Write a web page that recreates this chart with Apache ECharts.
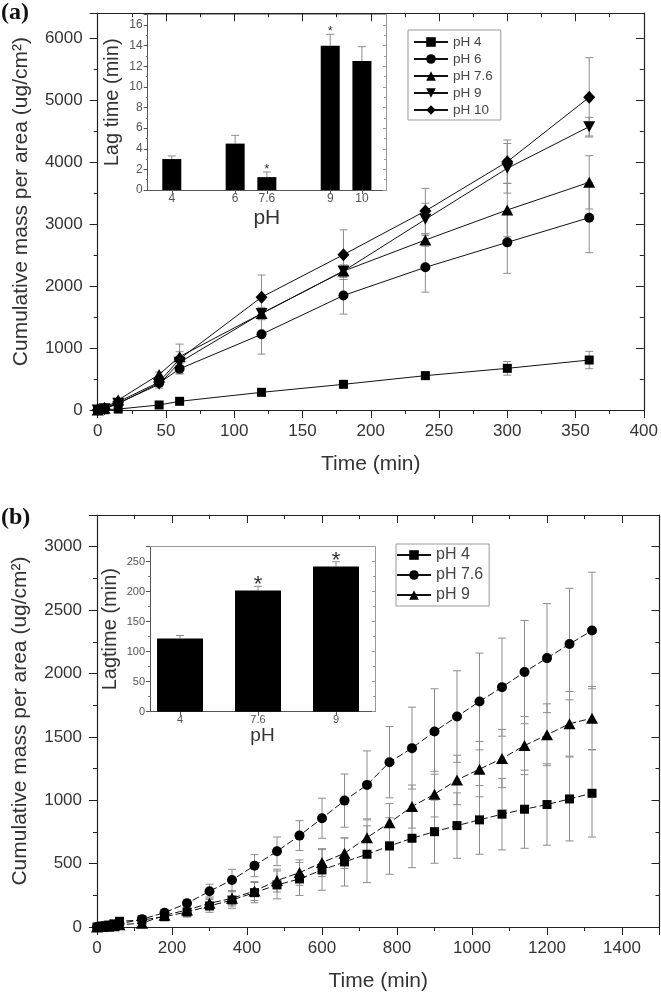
<!DOCTYPE html>
<html>
<head>
<meta charset="utf-8">
<script src="https://cdn.jsdelivr.net/npm/echarts@6/dist/echarts.min.js"></script>
<style>
html,body{margin:0;padding:0;background:#fff;}
#chart{width:661px;height:994px;}
</style>
</head>
<body>
<div id="chart"></div>
<script>
// ---------- Panel (a) data ----------
const timesA = [0, 5, 15, 45, 60, 120, 180, 240, 300, 360];
const namesA = ['pH 4', 'pH 6', 'pH 7.6', 'pH 9', 'pH 10'];
const pH4A   = [0, 5, 15, 81, 140, 285, 414, 554, 672, 806];
const pH6A   = [0, 20, 100, 435, 664, 1221, 1847, 2301, 2704, 3102];
const pH76A  = [0, 30, 160, 573, 860, 1556, 2240, 2742, 3226, 3672];
const pH9A   = [0, 20, 110, 414, 769, 1556, 2240, 3075, 3898, 4570];
const pH10A  = [0, 25, 130, 451, 823, 1820, 2505, 3210, 4005, 5043];
const pH4AErr  = [0, 0, 5, 15, 20, 30, 40, 60, 110, 140];
const pH6AErr  = [0, 0, 10, 50, 80, 320, 300, 400, 500, 565];
const pH76AErr = [0, 0, 20, 40, 80, 80, 60, 100, 430, 430];
const pH9AErr  = [0, 0, 15, 60, 80, 100, 100, 260, 400, 150];
const pH10AErr = [0, 0, 15, 60, 240, 357, 400, 365, 350, 640];

// inset (a): lag time
const lagCatsA = ['4', '6', '7.6', '9', '10'];
const lagPosA  = [0, 2, 3, 5, 6];
const lagValsA = [3.0, 4.5, 1.25, 14.0, 12.5];
const lagErrA  = [0.3, 0.8, 0.5, 1.1, 1.4];
const lagSigA  = [false, false, true, true, false];

// ---------- Panel (b) data ----------
const timesB = [0, 15, 30, 45, 60, 120, 180, 240, 300, 360, 420, 480, 540, 600, 660, 720, 780, 840, 900, 960, 1020, 1080, 1140, 1200, 1260, 1320];
const namesB = ['pH 4', 'pH 7.6', 'pH 9'];
const pH4B  = [0, 8, 15, 25, 45, 55, 81, 118, 166, 213, 271, 332, 379, 450, 513, 574, 639, 700, 752, 800, 845, 890, 929, 966, 1010, 1055];
const pH76B = [0, 5, 10, 15, 25, 61, 113, 187, 282, 371, 484, 597, 721, 858, 997, 1121, 1300, 1411, 1542, 1660, 1779, 1892, 2011, 2121, 2232, 2339];
const pH9B  = [0, 3, 6, 10, 18, 30, 92, 134, 187, 226, 284, 366, 429, 508, 582, 705, 823, 950, 1048, 1160, 1245, 1329, 1431, 1516, 1603, 1647];
const pH4BErr  = [0, 0, 0, 0, 10, 15, 30, 40, 50, 65, 80, 110, 130, 160, 190, 224, 223, 232, 249, 258, 271, 282, 308, 321, 331, 345];
const pH76BErr = [0, 0, 0, 0, 10, 30, 27, 30, 55, 84, 87, 113, 118, 158, 210, 268, 281, 323, 337, 361, 382, 387, 407, 430, 440, 460];
const pH9BErr  = [0, 0, 0, 0, 10, 20, 30, 40, 50, 60, 75, 90, 100, 110, 120, 140, 150, 170, 180, 195, 218, 230, 229, 244, 255, 250];

// inset (b): lag time
const lagCatsB = ['4', '7.6', '9'];
const lagPosB  = [0, 1, 2];
const lagValsB = [122, 202, 242];
const lagErrB  = [5, 7, 8];
const lagSigB  = [false, true, true];

// ---------- helpers ----------
const FONT = "'Liberation Sans', Arial, sans-serif";
const AX = '#222';
const TXT = '#333';
const ERR = '#8c8c8c';

function pairs(xs, ys) { return xs.map((x, i) => [x, ys[i]]); }
function triples(xs, ys, es) { return xs.map((x, i) => [x, ys[i], es[i]]); }
const plain = v => String(v);

function errRender(capW, upperOnly) {
  return function (params, api) {
    const x = api.value(0), y = api.value(1), e = api.value(2);
    if (!e) return null;
    const pT = api.coord([x, y + e]);
    const pB = upperOnly ? api.coord([x, y]) : api.coord([x, y - e]);
    const st = { stroke: ERR, lineWidth: 1 };
    const ch = [
      { type: 'line', shape: { x1: pT[0], y1: pT[1], x2: pB[0], y2: pB[1] }, style: st },
      { type: 'line', shape: { x1: pT[0] - capW, y1: pT[1], x2: pT[0] + capW, y2: pT[1] }, style: st }
    ];
    if (!upperOnly) ch.push({ type: 'line', shape: { x1: pB[0] - capW, y1: pB[1], x2: pB[0] + capW, y2: pB[1] }, style: st });
    return { type: 'group', children: ch };
  };
}
function starRender(fontSize, gap) {
  return function (params, api) {
    const x = api.value(0), y = api.value(1), e = api.value(2), s = api.value(3);
    if (!s) return null;
    const p = api.coord([x, y + e]);
    return { type: 'text', style: { text: '*', x: p[0], y: p[1] - gap, align: 'center', verticalAlign: 'bottom', font: fontSize + 'px ' + FONT, fill: '#333' } };
  };
}

function mainX(grid, min, max, interval, name, gap, showMax) {
  return [{
    type: 'value', gridIndex: grid, min, max, interval, position: 'bottom',
    name, nameLocation: 'middle', nameGap: gap,
    nameTextStyle: { fontSize: 21, color: TXT, fontFamily: FONT },
    axisLine: { show: true, onZero: false, lineStyle: { color: AX, width: 1.2 } },
    axisTick: { show: true, inside: false, length: 8, lineStyle: { color: AX } },
    minorTick: { show: true, splitNumber: 2, length: 4, lineStyle: { color: AX } },
    axisLabel: { fontSize: 17, color: TXT, fontFamily: FONT, margin: 13, showMaxLabel: showMax, formatter: plain },
    splitLine: { show: false }, minorSplitLine: { show: false }
  }, {
    type: 'value', gridIndex: grid, min, max, interval, position: 'top',
    axisLine: { show: true, onZero: false, lineStyle: { color: AX, width: 1.2 } },
    axisTick: { show: true, inside: true, length: 8, lineStyle: { color: AX } },
    minorTick: { show: true, splitNumber: 2, length: 4, lineStyle: { color: AX } },
    axisLabel: { show: false }, splitLine: { show: false }
  }];
}
function mainY(grid, min, max, interval, name, gap, pad) {
  return [{
    type: 'value', gridIndex: grid, min, max, interval, position: 'left',
    name, nameLocation: 'middle', nameGap: gap,
    nameTextStyle: { fontSize: 21, color: TXT, fontFamily: FONT, padding: pad },
    axisLine: { show: true, onZero: false, lineStyle: { color: AX, width: 1.2 } },
    axisTick: { show: true, inside: false, length: 8, lineStyle: { color: AX } },
    minorTick: { show: true, splitNumber: 2, length: 4, lineStyle: { color: AX } },
    axisLabel: { fontSize: 17, color: TXT, fontFamily: FONT, margin: 15, showMaxLabel: false, formatter: plain },
    splitLine: { show: false }, minorSplitLine: { show: false }
  }, {
    type: 'value', gridIndex: grid, min, max, interval, position: 'right',
    axisLine: { show: true, onZero: false, lineStyle: { color: AX, width: 1.2 } },
    axisTick: { show: true, inside: true, length: 8, lineStyle: { color: AX } },
    minorTick: { show: true, splitNumber: 2, length: 4, lineStyle: { color: AX } },
    axisLabel: { show: false }, splitLine: { show: false }
  }];
}
function insetX(grid, min, max, pos, cats, nameSize, gap, labSize) {
  return [{
    type: 'value', gridIndex: grid, min, max, position: 'bottom',
    name: 'pH', nameLocation: 'middle', nameGap: gap,
    nameTextStyle: { fontSize: nameSize, color: TXT, fontFamily: FONT },
    axisLine: { show: true, onZero: false, lineStyle: { color: '#555', width: 1 } },
    axisTick: { show: true, inside: false, length: 4, customValues: pos, lineStyle: { color: '#555' } },
    axisLabel: { customValues: pos, fontSize: labSize, color: '#555', fontFamily: FONT, margin: 3,
      formatter: v => cats[pos.indexOf(v)] },
    splitLine: { show: false }
  }, {
    type: 'value', gridIndex: grid, min, max, position: 'top',
    axisLine: { show: true, onZero: false, lineStyle: { color: '#999', width: 1 } },
    axisTick: { show: false }, axisLabel: { show: false }, splitLine: { show: false }
  }];
}
function insetY(grid, min, max, interval, name, labSize, gap) {
  return [{
    type: 'value', gridIndex: grid, min, max, interval, position: 'left',
    name, nameLocation: 'middle', nameGap: gap,
    nameTextStyle: { fontSize: 20, color: TXT, fontFamily: FONT },
    axisLine: { show: true, onZero: false, lineStyle: { color: '#555', width: 1 } },
    axisTick: { show: true, inside: false, length: 4, lineStyle: { color: '#555' } },
    minorTick: { show: true, splitNumber: 2, length: 2, lineStyle: { color: '#777' } },
    axisLabel: { fontSize: labSize, color: '#555', fontFamily: FONT, margin: 5, showMaxLabel: false, formatter: plain },
    splitLine: { show: false }, minorSplitLine: { show: false }
  }, {
    type: 'value', gridIndex: grid, min, max, interval, position: 'right',
    axisLine: { show: true, onZero: false, lineStyle: { color: '#999', width: 1 } },
    axisTick: { show: true, inside: true, length: 3, lineStyle: { color: '#999' } },
    minorTick: { show: true, splitNumber: 2, length: 2, lineStyle: { color: '#999' } },
    axisLabel: { show: false }, splitLine: { show: false }
  }];
}

const symA = [
  { symbol: 'rect', symbolSize: 9 },
  { symbol: 'circle', symbolSize: 10 },
  { symbol: 'triangle', symbolSize: [12, 11] },
  { symbol: 'path://M0,0 L2,0 L1,1.732 Z', symbolSize: [12, 11] },
  { symbol: 'diamond', symbolSize: [12, 13] }
];
const valsA = [pH4A, pH6A, pH76A, pH9A, pH10A];
const errsA = [pH4AErr, pH6AErr, pH76AErr, pH9AErr, pH10AErr];
const symB = [
  { symbol: 'rect', symbolSize: 9 },
  { symbol: 'circle', symbolSize: 10 },
  { symbol: 'triangle', symbolSize: [12, 11] }
];
const valsB = [pH4B, pH76B, pH9B];
const errsB = [pH4BErr, pH76BErr, pH9BErr];

const series = [];
// panel (a)
valsA.forEach((v, i) => {
  series.push({ type: 'custom', xAxisIndex: 0, yAxisIndex: 0, z: 1, renderItem: errRender(4, false),
    encode: { x: 0, y: 1 }, data: triples(timesA, v, errsA[i]), silent: true });
});
valsA.forEach((v, i) => {
  series.push({ type: 'line', name: namesA[i], xAxisIndex: 0, yAxisIndex: 0, z: 3,
    data: pairs(timesA, v), symbol: symA[i].symbol, symbolSize: symA[i].symbolSize, showAllSymbol: true,
    color: '#000', itemStyle: { color: '#000' }, lineStyle: { color: '#111', width: 1 }, animation: false });
});
// inset (a)
series.push({ type: 'bar', xAxisIndex: 2, yAxisIndex: 2, data: pairs(lagPosA, lagValsA), barWidth: 19,
  itemStyle: { color: '#000' }, z: 4, animation: false });
series.push({ type: 'custom', xAxisIndex: 2, yAxisIndex: 2, z: 3, renderItem: errRender(4, true),
  encode: { x: 0, y: 1 }, data: triples(lagPosA, lagValsA, lagErrA) });
series.push({ type: 'custom', xAxisIndex: 2, yAxisIndex: 2, z: 5, renderItem: starRender(13, -4),
  encode: { x: 0, y: 1 }, data: lagPosA.map((p, i) => [p, lagValsA[i], lagErrA[i], lagSigA[i] ? 1 : 0]) });

// panel (b)
valsB.forEach((v, i) => {
  series.push({ type: 'custom', xAxisIndex: 4, yAxisIndex: 4, z: 1, renderItem: errRender(4, false),
    encode: { x: 0, y: 1 }, data: triples(timesB, v, errsB[i]), silent: true });
});
valsB.forEach((v, i) => {
  series.push({ type: 'line', name: 'b_' + namesB[i], xAxisIndex: 4, yAxisIndex: 4, z: 3,
    data: pairs(timesB, v), symbol: symB[i].symbol, symbolSize: symB[i].symbolSize, showAllSymbol: true,
    color: '#000', itemStyle: { color: '#000' }, lineStyle: { color: '#111', width: 1, type: [7, 3] }, animation: false });
});
// inset (b)
series.push({ type: 'bar', xAxisIndex: 6, yAxisIndex: 6, data: pairs(lagPosB, lagValsB), barWidth: 46,
  itemStyle: { color: '#000' }, z: 4, animation: false });
series.push({ type: 'custom', xAxisIndex: 6, yAxisIndex: 6, z: 3, renderItem: errRender(4, true),
  encode: { x: 0, y: 1 }, data: triples(lagPosB, lagValsB, lagErrB) });
series.push({ type: 'custom', xAxisIndex: 6, yAxisIndex: 6, z: 5, renderItem: starRender(22, -10),
  encode: { x: 0, y: 1 }, data: lagPosB.map((p, i) => [p, lagValsB[i], lagErrB[i], lagSigB[i] ? 1 : 0]) });

const yName = 'Cumulative mass per area (ug/cm\u00B2)';

const option = {
  backgroundColor: '#fff',
  animation: false,
  textStyle: { fontFamily: FONT },
  grid: [
    { left: 97.7, top: 13.2, width: 548.3, height: 396.8 },
    { left: 147.7, top: 14.7, width: 238.3, height: 175.3 },
    { left: 97, top: 515, width: 562.5, height: 412 },
    { left: 150, top: 546.7, width: 225, height: 165 }
  ],
  xAxis: [
    ...mainX(0, 0, 400, 50, 'Time (min)', 44, true),
    ...insetX(1, -0.76, 6.76, lagPosA, lagCatsA, 21, 18, 12),
    ...mainX(2, 0, 1500, 200, 'Time (min)', 44, false),
    ...insetX(3, -0.385, 2.5, lagPosB, lagCatsB, 19, 12, 11)
  ],
  yAxis: [
    ...mainY(0, 0, 6400, 1000, yName, 66, [0, 0, 0, 20]),
    ...insetY(1, 0, 17, 2, 'Lag time (min)', 12, 25),
    ...mainY(2, 0, 3250, 500, yName, 66, [0, 0, 0, 0]),
    ...insetY(3, 0, 275, 50, 'Lagtime (min)', 11, 30)
  ],
  legend: [{
    data: namesA, left: 408, top: 30, orient: 'vertical',
    itemWidth: 34, itemHeight: 12, itemGap: 3, padding: [5, 8, 3, 5],
    borderColor: '#999', borderWidth: 1, selectedMode: false,
    textStyle: { fontSize: 13.5, color: '#444', fontFamily: FONT },
    lineStyle: { type: 'solid' }
  }, {
    data: namesB.map(n => 'b_' + n), left: 396, top: 544, orient: 'vertical',
    itemWidth: 34, itemHeight: 12, itemGap: 4, padding: [3, 6, 3, 0],
    borderColor: '#999', borderWidth: 1, selectedMode: false,
    formatter: n => n.replace('b_', ''),
    textStyle: { fontSize: 16, color: '#444', fontFamily: FONT },
    lineStyle: { type: 'solid' }
  }],
  graphic: [
    { type: 'text', left: 1, top: 1, style: { text: '(a)', font: "bold 24px 'Liberation Serif', 'Times New Roman', serif", fill: '#111' } },
    { type: 'text', left: 1, top: 506, style: { text: '(b)', font: "bold 24px 'Liberation Serif', 'Times New Roman', serif", fill: '#111' } }
  ],
  series
};

const chart = echarts.init(document.getElementById('chart'), null, { renderer: 'canvas' });
chart.setOption(option);
</script>
</body>
</html>
